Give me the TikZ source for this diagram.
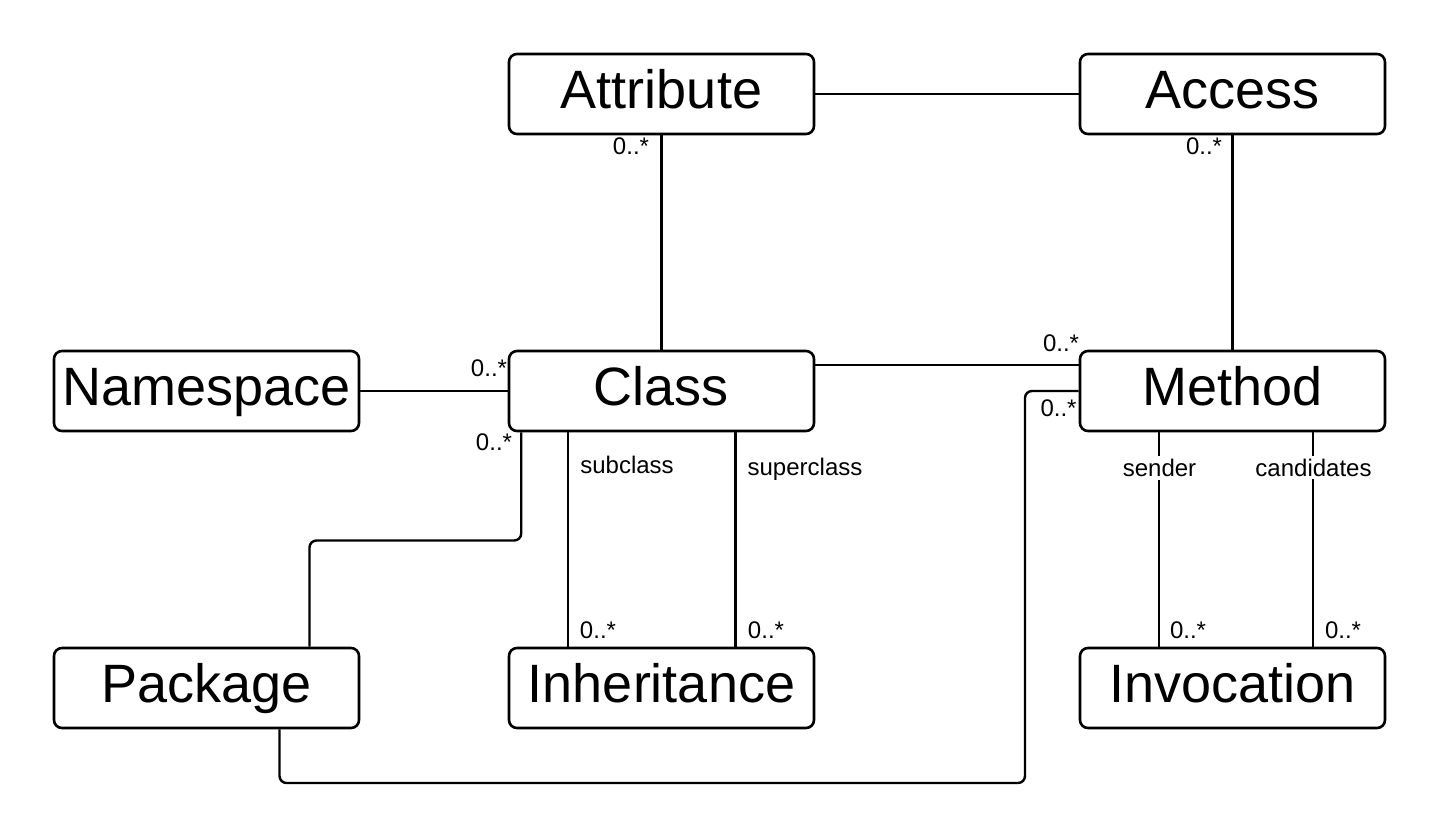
\documentclass[tikz,border=0pt]{standalone}
\usepackage{fontspec}
\setmainfont{Liberation Sans}
\tikzset{
	entity/.style={draw, line width=2.6pt, rounded corners=8pt, minimum width=305pt, minimum height=80pt, inner sep=0pt, text height=38pt, text depth=9pt, font=\fontsize{54}{60}\selectfont},
	assoc/.style={line width=2.4pt, rounded corners=7pt},
	mult/.style={inner sep=1pt, font=\fontsize{24}{28}\selectfont},
	role/.style={mult, fill=white, inner sep=3pt}
}
\begin{document}
\begin{tikzpicture}[x=1pt, y=-1pt]
	\useasboundingbox (0,0) rectangle (1440,839);

	\node[entity] (attribute) at (661.5,94) {Attribute};
	\node[entity] (access) at (1232.5,94) {Access};
	\node[entity] (namespace) at (206.5,391) {Namespace};
	\node[entity] (class) at (661.5,391) {Class};
	\node[entity] (method) at (1232.5,391) {Method};
	\node[entity] (package) at (206.5,688) {Package};
	\node[entity] (inheritance) at (661.5,688) {Inheritance};
	\node[entity] (invocation) at (1232.5,688) {Invocation};

	\draw[assoc] (attribute) -- (access);
	\draw[assoc] (attribute) -- (class);
	\draw[assoc] (access) -- (method);
	\draw[assoc] (namespace) -- (class);
	\draw[assoc] ([yshift=26pt]class.east) -- ([yshift=26pt]method.west);

	\coordinate (pkgbend) at (309.5,540.5);
	\draw[assoc] ([xshift=13.5pt]class.south west) |- (pkgbend) -- ([xshift=103pt]package.north);

	\coordinate (loopbend) at (1025,783);
	\draw[assoc] ([xshift=73pt]package.south) |- (loopbend) |- (method.west);

	\draw[assoc] ([xshift=-93.5pt]class.south) -- ([xshift=-93.5pt]inheritance.north);
	\draw[assoc] ([xshift=74pt]class.south) -- ([xshift=74pt]inheritance.north);
	\draw[assoc] ([xshift=-73.5pt]method.south) -- ([xshift=-73.5pt]invocation.north);
	\draw[assoc] ([xshift=80.5pt]method.south) -- ([xshift=80.5pt]invocation.north);

	\node[mult] (m1) at (631,146) {0..*};
	\node[mult] (m2) at (1204,146) {0..*};
	\node[mult] (m3) at (489,368) {0..*};
	\node[mult] (m4) at (1061,343) {0..*};
	\node[mult] (m5) at (494,442) {0..*};
	\node[mult] (m6) at (1058.5,408) {0..*};
	\node[mult] (m7) at (598,630) {0..*};
	\node[mult] (m8) at (766,630) {0..*};
	\node[mult] (m9) at (1188,630) {0..*};
	\node[mult] (m10) at (1343,630) {0..*};

	\node[mult] (sub) at (627,465) {subclass};
	\node[mult] (super) at (805,469) {superclass};
	\node[role] (send) at (1159.5,468) {sender};
	\node[role] (cand) at (1313.5,467.5) {candidates};
\end{tikzpicture}
\end{document}
